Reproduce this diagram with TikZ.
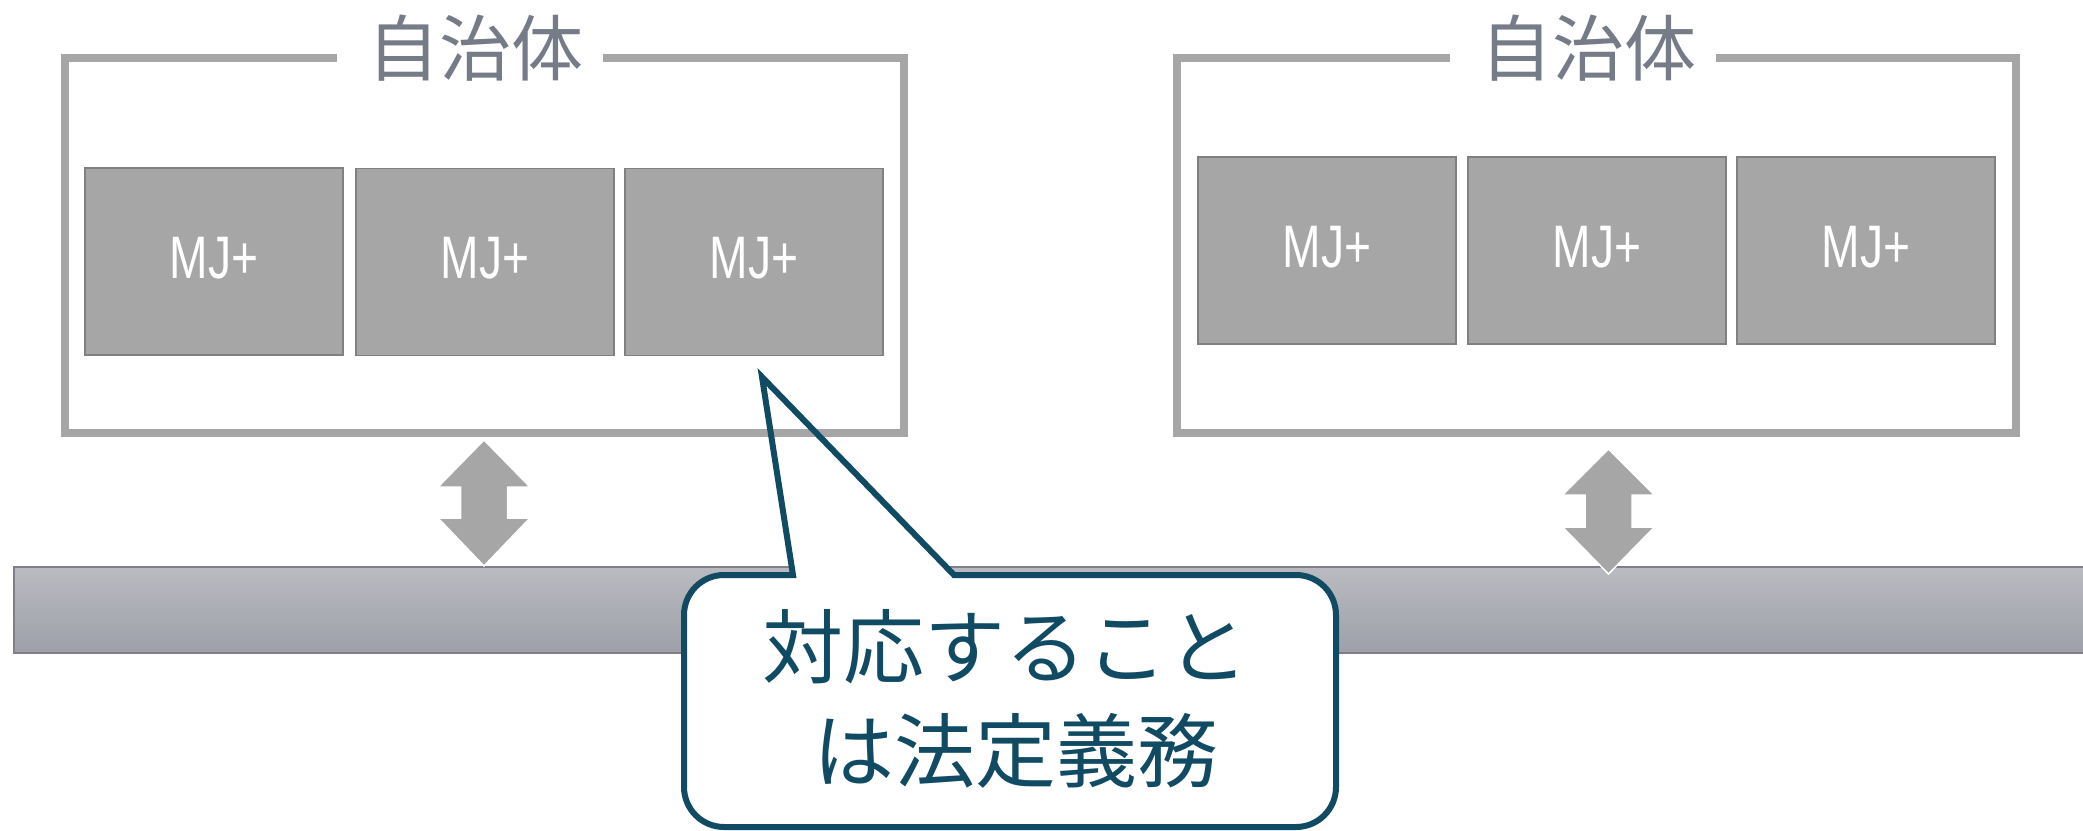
\documentclass[tikz,border=0pt]{standalone}
\usepackage{graphicx}
\usepackage{fontspec}
\newfontfamily\jpfont{Noto Sans CJK JP}
\newfontfamily\mjfont{Liberation Sans}
\definecolor{framegray}{RGB}{166,166,166}
\definecolor{boxborder}{RGB}{128,128,128}
\definecolor{titlegray}{RGB}{118,123,136}
\definecolor{barTop}{RGB}{186,187,192}
\definecolor{barBot}{RGB}{157,160,169}
\definecolor{barLine}{RGB}{126,127,138}
\definecolor{calloutc}{RGB}{17,75,99}
\tikzset{
  framestyle/.style={draw=framegray, line width=8pt, line cap=butt, line join=miter},
  mjbox/.style={draw=boxborder, line width=1.5pt, fill=framegray, minimum width=258pt, minimum height=187pt,
    inner sep=0pt, text=white, font=\mjfont\fontsize{60}{66}\selectfont, text height=43pt, text depth=10pt},
  titletext/.style={text=titlegray, font=\jpfont\fontsize{72}{80}\selectfont, inner sep=0pt, anchor=base},
  blockarrow/.style={fill=framegray, draw=white, line width=1.5pt, line join=miter},
  calltext/.style={text=calloutc, font=\jpfont\fontsize{81}{90}\selectfont, inner sep=0pt, anchor=base},
}
\newcommand{\calloutpath}{(954,575) -- (1296,575) .. controls (1318.1,575) and (1336,592.9) .. (1336,615)
  -- (1336,787) .. controls (1336,809.1) and (1318.1,827) .. (1296,827)
  -- (724,827) .. controls (701.9,827) and (684,809.1) .. (684,787)
  -- (684,615) .. controls (684,592.9) and (701.9,575) .. (724,575)
  -- (793,575) -- (762,377) -- cycle}
\begin{document}
\begin{tikzpicture}[x=1pt,y=-1pt]
\useasboundingbox (0,0) rectangle (2083,830);
\fill[white] (0,0) rectangle (2083,830);
\begin{scope}
\clip (0,0) rectangle (2083,830);
% bar
\shade[top color=barTop, bottom color=barBot] (14,567) rectangle (2090,653);
\draw[barLine, line width=1.5pt] (2090,567) -- (14,567) -- (14,653) -- (2090,653);
% callout fill
\fill[white] \calloutpath;
% frames
\draw[framestyle] (337,58) -- (64.5,58) -- (64.5,433) -- (904,433) -- (904,58) -- (603,58);
\draw[framestyle] (1450,58) -- (1177,58) -- (1177,433) -- (2016,433) -- (2016,58) -- (1716,58);
\node[titletext] (t1) at (475,75) {自治体};
\node[titletext] (t2) at (1588,75) {自治体};
% boxes
\node[mjbox] (l1) at (214,261.5) {\scalebox{0.77}[1]{MJ+}};
\node[mjbox] (l2) at (485,262) {\scalebox{0.77}[1]{MJ+}};
\node[mjbox] (l3) at (754,262) {\scalebox{0.77}[1]{MJ+}};
\node[mjbox] (r1) at (1327,250.5) {\scalebox{0.77}[1]{MJ+}};
\node[mjbox] (r2) at (1597,250.5) {\scalebox{0.77}[1]{MJ+}};
\node[mjbox] (r3) at (1866,250.5) {\scalebox{0.77}[1]{MJ+}};
% block arrows
\draw[blockarrow] (484,440) -- (530,487) -- (507.5,487) -- (507.5,518) -- (530,518) -- (484,566)
  -- (438,518) -- (460.5,518) -- (460.5,487) -- (438,487) -- cycle;
\draw[blockarrow] (1608.5,449) -- (1654.5,495) -- (1632,495) -- (1632,527) -- (1654.5,527) -- (1608.5,574)
  -- (1562.5,527) -- (1585,527) -- (1585,495) -- (1562.5,495) -- cycle;
% callout stroke
\draw[calloutc, line width=6pt, line join=miter] \calloutpath;
\node[calltext] (c1) at (1005,677) {対応すること};
\node[calltext] (c2) at (1016,781) {は法定義務};
\end{scope}
\end{tikzpicture}
\end{document}
